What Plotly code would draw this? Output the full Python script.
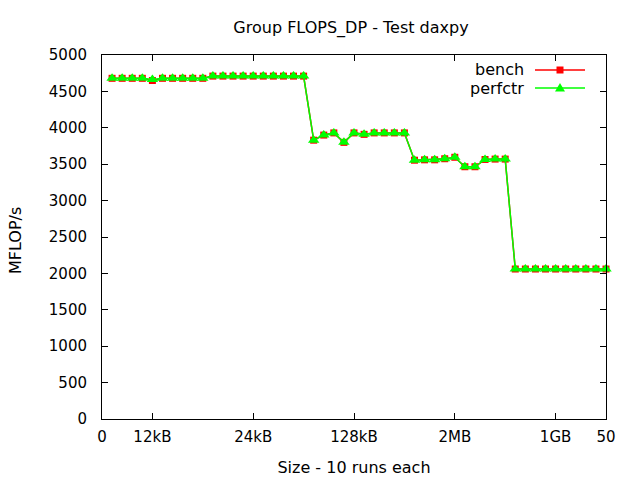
import plotly.graph_objects as go

# ---- data ----
x_idx = list(range(1, 51))
bench = [4680, 4680, 4680, 4680, 4650, 4680, 4680, 4680, 4680, 4680,
         4710, 4710, 4710, 4710, 4710, 4710, 4710, 4710, 4710, 4710,
         3830, 3900, 3930, 3800, 3930, 3910, 3930, 3930, 3930, 3930,
         3555, 3560, 3560, 3575, 3595, 3465, 3465, 3565, 3570, 3570,
         2060, 2060, 2060, 2060, 2060, 2060, 2060, 2060, 2060, 2060]
perfctr = [4680, 4680, 4680, 4680, 4665, 4680, 4680, 4680, 4680, 4680,
           4710, 4710, 4710, 4710, 4710, 4710, 4710, 4710, 4710, 4710,
           3830, 3900, 3930, 3800, 3930, 3910, 3930, 3930, 3930, 3930,
           3555, 3560, 3560, 3575, 3595, 3465, 3465, 3565, 3570, 3570,
           2060, 2060, 2060, 2060, 2060, 2060, 2060, 2060, 2060, 2060]
xtick_vals = [0, 5, 15, 25, 35, 45, 50]
xtick_text = ["0", "12kB", "24kB", "128kB", "2MB", "1GB", "50"]
ytick_vals = list(range(0, 5001, 500))

FONT = "DejaVu Sans"
RED = "#ff0000"
GREEN = "#00ff00"

fig = go.Figure()
fig.add_trace(go.Scatter(
    x=x_idx, y=bench, mode="lines+markers", name="bench",
    line=dict(color=RED, width=1.5),
    marker=dict(symbol="square", size=7, color=RED),
    cliponaxis=False, showlegend=False))
fig.add_trace(go.Scatter(
    x=x_idx, y=perfctr, mode="lines+markers", name="perfctr",
    line=dict(color=GREEN, width=1.5),
    marker=dict(symbol="triangle-up", size=10, color=GREEN),
    cliponaxis=False, showlegend=False))

axis_common = dict(showline=True, linecolor="black", linewidth=1, mirror="ticks",
                   ticks="inside", ticklen=6, tickcolor="black", showgrid=False,
                   zeroline=False, automargin=False,
                   tickfont=dict(family=FONT, size=15, color="black"))

fig.update_xaxes(range=[0, 50], tickvals=xtick_vals, ticktext=xtick_text,
                 ticklabelstandoff=4,
                 title=dict(text="Size - 10 runs each", font=dict(family=FONT, size=16, color="black"), standoff=16),
                 **axis_common)
fig.update_yaxes(range=[0, 5000], tickvals=ytick_vals, ticklabelstandoff=11,
                 **axis_common)

# manual gnuplot-style legend (text left, sample right)
def px_x(p):
    return (p - 102) / 504.0

def px_y(p):
    return (419 - p) / 364.0

shapes = []
annotations = []
legend_items = [("bench", RED, "square", 70), ("perfctr", GREEN, "triangle", 88)]
for name, col, sym, ypix in legend_items:
    yy = px_y(ypix)
    shapes.append(dict(type="line", xref="paper", yref="paper",
                       x0=px_x(535), x1=px_x(585), y0=yy, y1=yy,
                       line=dict(color=col, width=1.5)))
    if sym == "square":
        shapes.append(dict(type="rect", xref="paper", yref="paper",
                           xsizemode="pixel", ysizemode="pixel",
                           xanchor=px_x(560), yanchor=yy,
                           x0=-3.5, x1=3.5, y0=-3.5, y1=3.5,
                           fillcolor=col, line=dict(width=0)))
    else:
        shapes.append(dict(type="path", xref="paper", yref="paper",
                           xsizemode="pixel", ysizemode="pixel",
                           xanchor=px_x(560), yanchor=yy,
                           path="M -5,-3.5 L 5,-3.5 L 0,5 Z",
                           fillcolor=col, line=dict(width=0)))
    annotations.append(dict(text=name, xref="paper", yref="paper",
                            x=px_x(526), y=yy, xanchor="right", yanchor="middle",
                            showarrow=False, font=dict(family=FONT, size=16, color="black")))

# y axis title placed like gnuplot
annotations.append(dict(text="MFLOP/s", xref="paper", yref="paper",
                        x=px_x(15), y=px_y(241), xanchor="center", yanchor="middle",
                        textangle=-90, showarrow=False,
                        font=dict(family=FONT, size=16, color="black")))

fig.update_layout(
    width=640, height=480,
    margin=dict(l=102, r=34, t=55, b=61),
    paper_bgcolor="white", plot_bgcolor="white",
    title=dict(text="Group FLOPS_DP - Test daxpy", x=351 / 640, xanchor="center",
               y=1 - 27 / 480, yanchor="middle",
               font=dict(family=FONT, size=16, color="black")),
    shapes=shapes, annotations=annotations,
    showlegend=False,
)

fig.write_html("out.html")
